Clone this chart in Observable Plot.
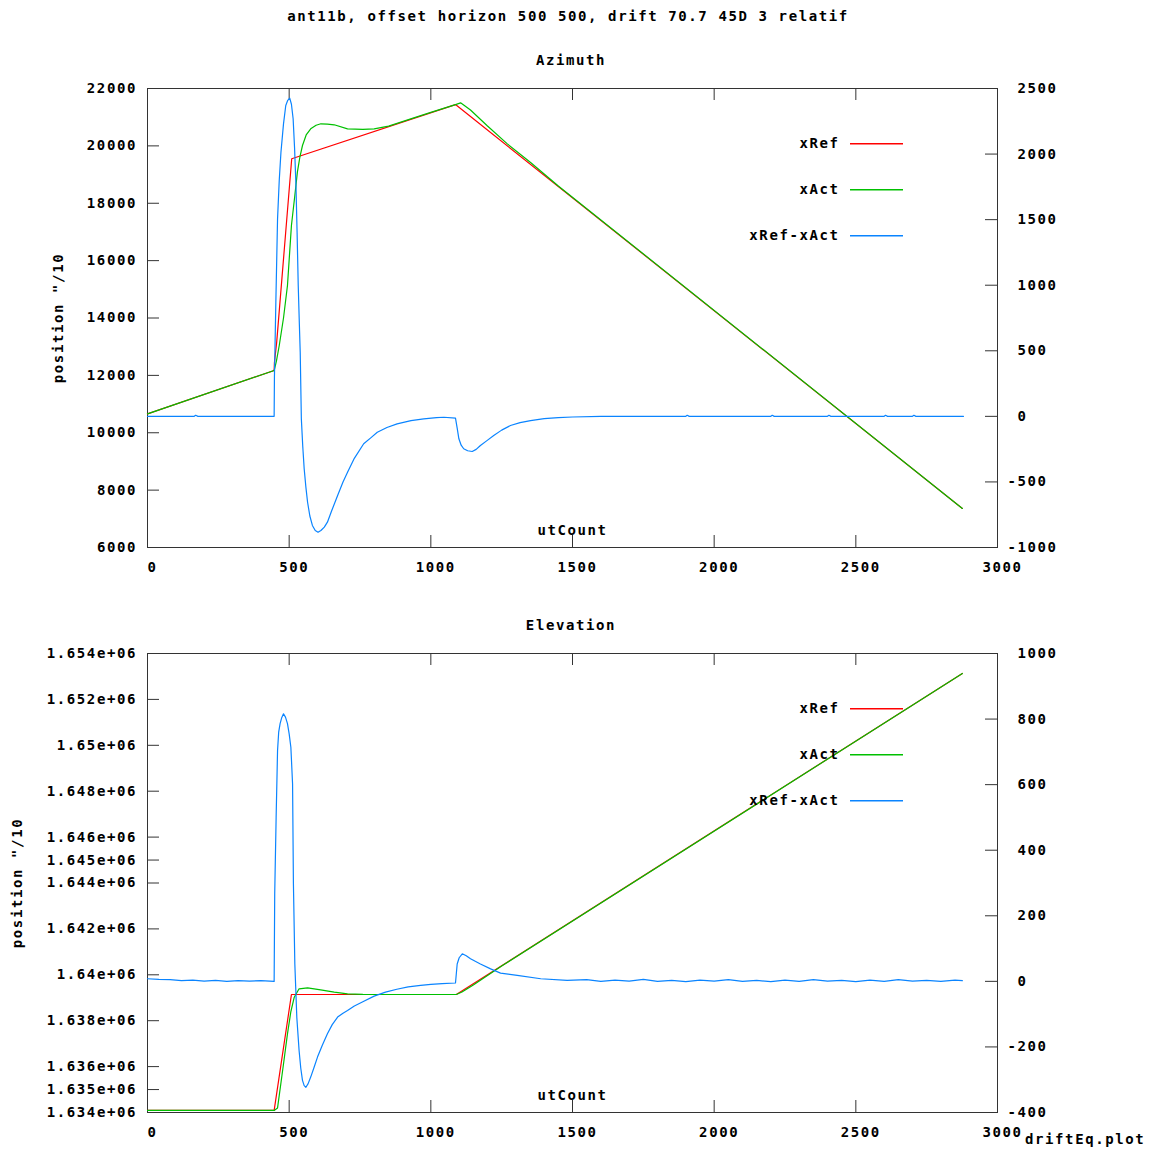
<!DOCTYPE html>
<html><head><meta charset="utf-8">
<script src="https://cdn.jsdelivr.net/npm/d3@7"></script>
<script src="https://cdn.jsdelivr.net/npm/@observablehq/plot@0.6"></script>
<style>
body{margin:0;background:#fff}
#wrap{position:relative;width:1164px;height:1153px;background:#fff;overflow:hidden}
#wrap svg{position:absolute;left:0}
svg text,.lbl{font-family:"DejaVu Sans Mono",monospace;font-weight:bold;font-size:14px;letter-spacing:1.6px;fill:#000;color:#000}
.lbl{position:absolute;white-space:pre;line-height:16px}
</style></head><body><div id="wrap"></div>
<script>
// ---------- data ----------
const title = "ant11b, offset horizon 500 500, drift 70.7 45D 3 relatif";
const seriesNames = ["xRef", "xAct", "xRef-xAct"];
const xTicks = [0, 500, 1000, 1500, 2000, 2500, 3000];

// Azimuth panel
const azLeftTicks = [6000, 8000, 10000, 12000, 14000, 16000, 18000, 20000, 22000];
const azRightTicks = [-1000, -500, 0, 500, 1000, 1500, 2000, 2500];
const azRefX = [0, 447, 448, 456, 509, 1087, 2876];
const azRef  = [10660, 12170, 12450, 13160, 19550, 21440, 7360];
const azActX = [0, 447, 455, 465, 480, 494, 508, 520, 529, 538, 547, 560, 576, 595, 612, 635, 659, 706, 760, 800, 851, 940, 1000, 1087, 1105, 1140, 1199, 1270, 1352, 1450, 2876];
const azAct  = [10660, 12170, 12500, 13042, 14000, 15133, 17225, 18270, 19083, 19620, 20013, 20380, 20595, 20720, 20770, 20760, 20735, 20595, 20575, 20590, 20690, 20975, 21170, 21440, 21500, 21250, 20700, 20070, 19420, 18600, 7360];
const azDiffX = [0, 165, 170, 178, 447, 448, 453, 459, 465, 471, 480, 488, 495, 502, 508, 514, 519, 524, 528, 532, 536, 539, 543, 548, 553, 559, 565, 573, 582, 592, 602, 612, 624, 635, 650, 671, 690, 706, 730, 763, 790, 811, 845, 881, 930, 975, 1020, 1046, 1087, 1093, 1099, 1107, 1116, 1130, 1146, 1160, 1175, 1198, 1222, 1250, 1281, 1315, 1352, 1400, 1450, 1500, 1600, 1900, 1905, 1912, 2200, 2205, 2212, 2400, 2405, 2412, 2600, 2605, 2612, 2700, 2705, 2712, 2880];
const azDiff  = [0, 0, 8, 0, 0, 300, 871, 1506, 1800, 2014, 2230, 2370, 2410, 2426, 2380, 2269, 2050, 1760, 1400, 998, 700, 489, -19, -230, -400, -540, -655, -760, -832, -870, -883, -870, -845, -807, -720, -604, -500, -426, -320, -209, -160, -121, -85, -57, -33, -19, -10, -7, -14, -90, -171, -220, -247, -262, -268, -252, -222, -185, -146, -105, -70, -48, -32, -18, -10, -5, 0, 0, 8, 0, 0, 8, 0, 0, 8, 0, 0, 8, 0, 0, 8, 0, 0];

// Elevation panel
const elLeftTicks = [1634000, 1635000, 1636000, 1638000, 1640000, 1642000, 1644000, 1645000, 1646000, 1648000, 1650000, 1652000, 1654000];
const elLeftTickLabels = ["1.634e+06", "1.635e+06", "1.636e+06", "1.638e+06", "1.64e+06", "1.642e+06", "1.644e+06", "1.645e+06", "1.646e+06", "1.648e+06", "1.65e+06", "1.652e+06", "1.654e+06"];
const elRightTicks = [-400, -200, 0, 200, 400, 600, 800, 1000];
const elRefX = [0, 447, 508, 1090, 2876];
const elRef  = [1634090, 1634090, 1639142, 1639142, 1653129];
const elActX = [0, 447, 459, 470, 482, 494, 506, 518, 535, 565, 611, 659, 706, 760, 820, 1090, 1110, 1150, 1250, 2876];
const elAct  = [1634090, 1634090, 1634200, 1635200, 1636300, 1637429, 1638400, 1639024, 1639390, 1639433, 1639346, 1639242, 1639172, 1639150, 1639142, 1639142, 1639250, 1639560, 1640380, 1653129];
const elDiffX = [0, 40, 80, 120, 160, 200, 240, 280, 320, 360, 400, 447, 449, 454, 459, 463, 468, 474, 480, 487, 494, 500, 506, 512, 515, 520, 527, 535, 541, 547, 553, 559, 567, 576, 588, 600, 617, 635, 652, 671, 690, 706, 730, 760, 800, 840, 880, 920, 964, 1000, 1040, 1087, 1093, 1100, 1111, 1125, 1140, 1175, 1211, 1246, 1305, 1388, 1481, 1550, 1600, 1650, 1700, 1750, 1800, 1850, 1900, 1950, 2000, 2050, 2100, 2150, 2200, 2250, 2300, 2350, 2400, 2450, 2500, 2550, 2600, 2650, 2700, 2750, 2800, 2850, 2876];
const elDiff  = [8, 6, 5, 2, 4, 1, 3, 0, 2, 1, 2, 0, 267, 500, 704, 760, 786, 805, 816, 806, 786, 755, 714, 603, 298, 53, -110, -211, -265, -302, -318, -323, -312, -292, -262, -231, -195, -160, -132, -109, -97, -89, -75, -62, -45, -33, -24, -17, -12, -9, -7, -5, 53, 72, 84, 78, 69, 53, 38, 25, 18, 8, 3, 5, 0, 4, 1, 6, 0, 3, -1, 4, 1, 5, 0, 3, -1, 4, 0, 5, 1, 3, -1, 4, 0, 5, 1, 3, 0, 4, 2];

// ---------- layout ----------
const W = 1164, ML = 147, MR = 1164 - 997, FW = 850, FH = 459;
const colors = ["#ff0000", "#00c000", "#0a84ff"];
const axisColor = "#333";
const wrap = document.getElementById("wrap");
const toRows = (xs, vs) => xs.map((x, i) => ({x, v: vs[i]}));
const sp = "\u00a0";

function label(text, x, y, anchor = "middle") {
  const d = document.createElement("div");
  d.className = "lbl";
  d.textContent = text;
  d.style.top = (y - 8) + "px";
  if (anchor === "middle") { d.style.left = x + "px"; d.style.transform = "translateX(-50%)"; }
  else d.style.left = x + "px";
  wrap.appendChild(d);
}

// legend drawn inside the plot's own SVG, anchored to the frame's top-right corner
function legendMark(index, scales, values, dims) {
  const right = dims.width - dims.marginRight, top = dims.marginTop;
  const g = d3.create("svg:g");
  seriesNames.forEach((n, i) => {
    const y = Math.round(top + 55 + i * 46);
    g.append("text").attr("x", right - 157.4).attr("y", y).attr("dy", "0.35em")
      .attr("text-anchor", "end").text(n);
    g.append("rect").attr("x", right - 147).attr("width", 53).attr("y", y).attr("height", 1.5)
      .attr("fill", colors[i]);
  });
  return g.node();
}

function panel({top, height, mt, yDomain, yTicks, yLabels, y2Domain, y2Ticks, ref, act, diff, ylabDx}) {
  const mb = height - mt - FH;
  const common = {width: W, height, marginLeft: ML, marginRight: MR, marginTop: mt, marginBottom: mb,
    x: {domain: [0, 3000]}, style: {background: "none", overflow: "visible"}};
  const lblMap = new Map(yTicks.map((t, i) => [t, yLabels[i]]));
  const a = Plot.plot({
    ...common,
    y: {domain: yDomain},
    marks: [
      Plot.frame({stroke: axisColor}),
      Plot.tickY(yTicks, {y: d => d, insetRight: FW - 12, stroke: axisColor}),
      Plot.tickX(xTicks, {x: d => d, insetTop: FH - 12, stroke: axisColor}),
      Plot.tickX(xTicks, {x: d => d, insetBottom: FH - 12, stroke: axisColor}),
      Plot.axisY(yTicks, {tickSize: 0, tickPadding: 10.5, tickFormat: d => lblMap.get(d), label: null}),
      Plot.axisX(xTicks, {tickSize: 0, tickPadding: 15, tickFormat: d => sp + d, label: null}),
      Plot.line(ref, {x: "x", y: "v", stroke: colors[0], strokeWidth: 1.2}),
      Plot.line(act, {x: "x", y: "v", stroke: colors[1], strokeWidth: 1.2}),
      Plot.text(["utCount"], {text: d => d, frameAnchor: "bottom", dy: -13}),
      Plot.text(['position "/10'], {text: d => d, frameAnchor: "left", textAnchor: "middle", rotate: -90, dx: ylabDx})
    ]
  });
  const b = Plot.plot({
    ...common,
    x: {domain: [0, 3000], axis: null},
    y: {domain: y2Domain},
    marks: [
      Plot.tickY(y2Ticks, {y: d => d, insetLeft: FW - 12, stroke: axisColor}),
      Plot.axisY(y2Ticks, {anchor: "right", tickSize: 0, tickPadding: 10, tickFormat: d => d < 0 ? String(d) : sp + d, label: null}),
      Plot.line(diff, {x: "x", y: "v", stroke: colors[2], strokeWidth: 1.2}),
      legendMark
    ]
  });
  a.style.top = top + "px"; b.style.top = top + "px";
  wrap.appendChild(a); wrap.appendChild(b);
}

label(title, 568, 16);
label("Azimuth", 571, 60);
panel({top: 0, height: 580, mt: 88, yDomain: [6000, 22000], yTicks: azLeftTicks, yLabels: azLeftTicks.map(String),
  y2Domain: [-1000, 2500], y2Ticks: azRightTicks, ref: toRows(azRefX, azRef), act: toRows(azActX, azAct), diff: toRows(azDiffX, azDiff), ylabDx: -89});

label("Elevation", 571, 625);
panel({top: 580, height: 573, mt: 73, yDomain: [1634000, 1654000], yTicks: elLeftTicks, yLabels: elLeftTickLabels,
  y2Domain: [-400, 1000], y2Ticks: elRightTicks, ref: toRows(elRefX, elRef), act: toRows(elActX, elAct), diff: toRows(elDiffX, elDiff), ylabDx: -130});
label("driftEq.plot", 1025, 1139, "start");
</script></body></html>
